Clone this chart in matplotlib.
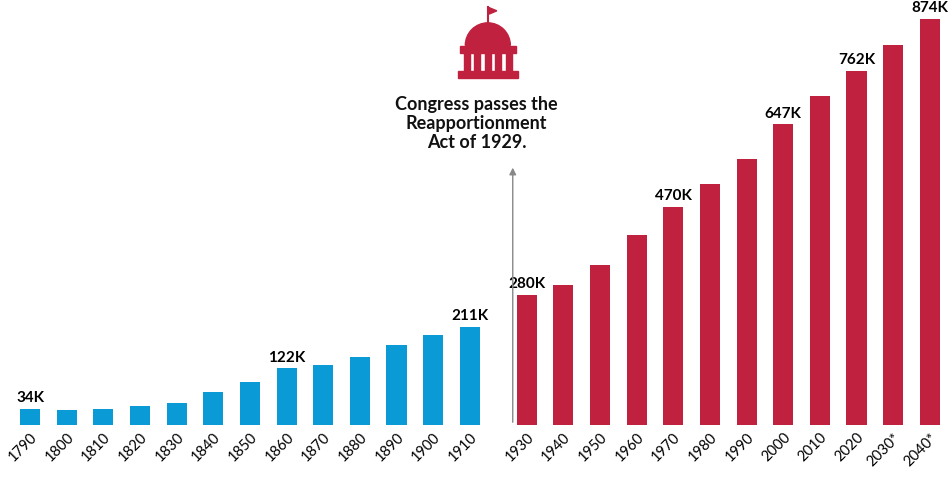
"""House district size by census year."""

import matplotlib.pyplot as plt
from matplotlib.patches import Rectangle, Wedge, Polygon

years = ["1790", "1800", "1810", "1820", "1830", "1840", "1850", "1860", "1870",
         "1880", "1890", "1900", "1910",
         "1930", "1940", "1950", "1960", "1970", "1980", "1990", "2000", "2010",
         "2020", "2030*", "2040*"]
size_k = [34, 33, 35, 40, 47, 70, 93, 122, 130, 147, 173, 193, 211,
          280, 301, 345, 410, 470, 519, 572, 647, 709, 762, 818, 874]
labeled = {"1790": "34K", "1860": "122K", "1910": "211K", "1930": "280K",
           "1970": "470K", "2000": "647K", "2020": "762K", "2040*": "874K"}

blue = "#0a9bd7"
red = "#c0213f"

plt.rcParams["font.family"] = ["Lato", "DejaVu Sans"]

pos = [i if i < 13 else i + 0.55 for i in range(len(years))]
colors = [blue if i < 13 else red for i in range(len(years))]

fig = plt.figure(figsize=(9.5, 4.84), dpi=100)
ax = fig.add_axes([0, 59 / 484, 1, 425 / 484])
ax.bar(pos, size_k, width=0.55, color=colors)
ax.set_xlim(-0.82, 25.1)
ax.set_ylim(0, 915)
for s in ax.spines.values():
    s.set_visible(False)
ax.set_yticks([])
ax.set_xticks(pos)
ax.set_xticklabels(years, rotation=45, ha="right", rotation_mode="anchor", fontsize=10.5)
ax.tick_params(axis="x", length=0, pad=4)

for p, y, v in zip(pos, years, size_k):
    if y in labeled:
        ax.text(p, v + 8, labeled[y], ha="center", va="bottom",
                fontsize=11, fontweight="bold")

# arrow marking the 1929 act
arrow_x = 13.17
ax.annotate("", xy=(arrow_x, 560), xytext=(arrow_x, 0),
            arrowprops=dict(arrowstyle="-|>", color="#888888", lw=1))
ax.text(12.18, 590, "Congress passes the\nReapportionment\nAct of 1929.",
        ha="center", va="bottom", fontsize=13, fontweight="bold",
        linespacing=1.15, color="#111111")

# capitol icon
icon = fig.add_axes([0.474, 0.835, 0.079, 0.155])
icon.set_xlim(0, 10)
icon.set_ylim(0, 10)
icon.axis("off")
icon.add_patch(Rectangle((1.0, 0.3), 8, 0.9, color=red))
for x in [1.8, 3.2, 4.6, 6.0, 7.4]:
    icon.add_patch(Rectangle((x, 1.2), 0.8, 2.4, color=red))
icon.add_patch(Rectangle((1.3, 3.6), 7.4, 0.9, color=red))
icon.add_patch(Wedge((5, 4.6), 3.0, 0, 180, color=red))
icon.plot([5, 5], [7.4, 9.7], color=red, lw=1.5)
icon.add_patch(Polygon([(5, 9.7), (6.2, 9.2), (5, 8.7)], color=red))

fig.savefig("out.png", dpi=100)
